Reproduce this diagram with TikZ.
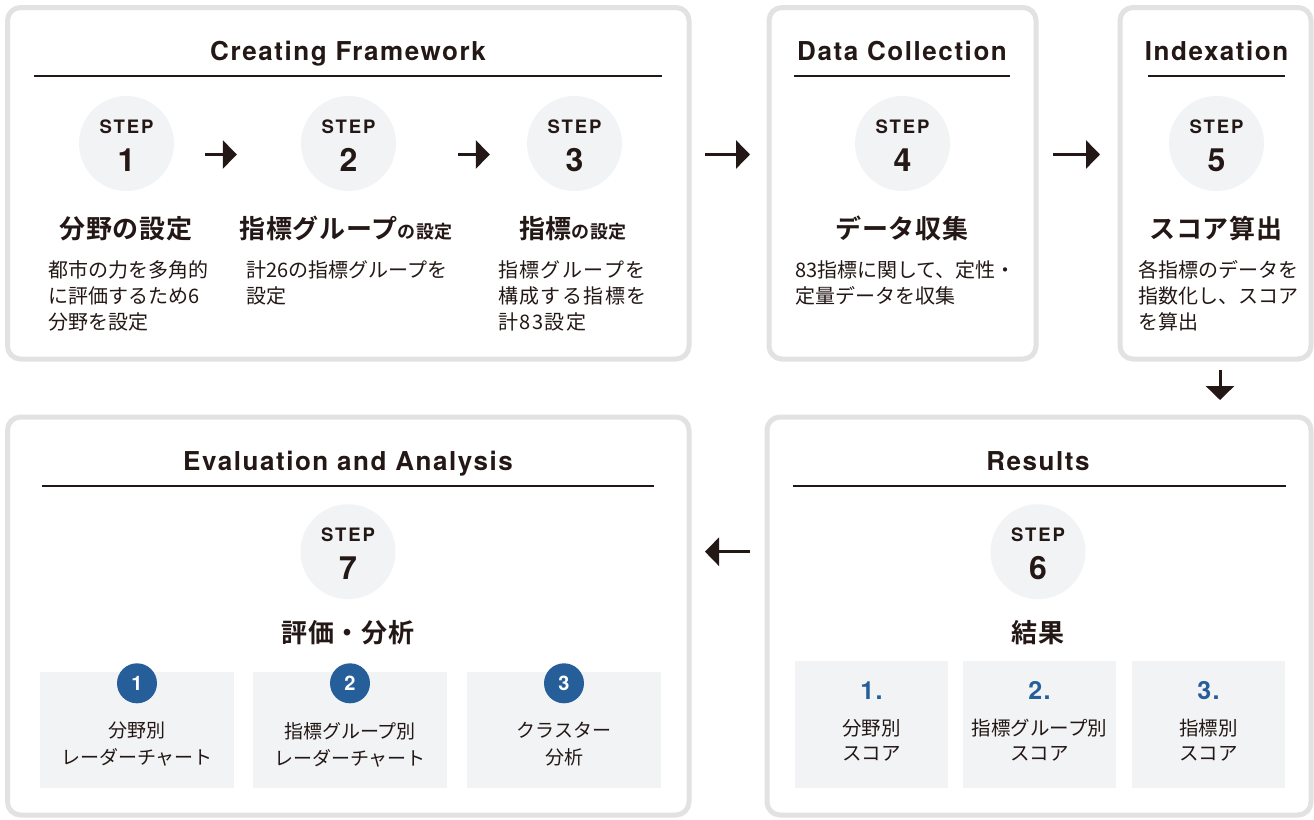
\documentclass[tikz,border=0pt]{standalone}
\usepackage{fontspec}
\setmainfont{TeX Gyre Heros}
\newfontfamily\jp{Noto Sans CJK JP}[BoldFont={Noto Sans CJK JP Bold}]
\newfontfamily\jphead{Noto Sans CJK JP Bold}[LetterSpace=3]
\newfontfamily\jpwide{Noto Sans CJK JP}[LetterSpace=7]
\newfontfamily\hv{TeX Gyre Heros}[LetterSpace=6]
\newfontfamily\hvwide{TeX Gyre Heros}[LetterSpace=10]
\usetikzlibrary{arrows.meta}
\definecolor{Ink}{RGB}{35,24,21}
\definecolor{Frame}{RGB}{226,226,226}
\definecolor{Pale}{RGB}{242,243,245}
\definecolor{Navy}{RGB}{37,94,153}

\begin{document}
\begin{tikzpicture}[x=1pt,y=-1pt,
  panel/.style={draw=Frame,line width=5pt,fill=white,rounded corners=13pt,inner sep=0pt},
  disc/.style={circle,fill=Pale,minimum size=95pt,inner sep=0pt},
  steplbl/.style={anchor=base,text=Ink,font=\hvwide\bfseries\fontsize{18.5}{20}\selectfont},
  stepnum/.style={anchor=base,text=Ink,font=\hv\bfseries\fontsize{32}{34}\selectfont},
  ttl/.style={anchor=base,text=Ink,font=\hv\bfseries\fontsize{26}{30}\selectfont},
  head/.style={anchor=base,text=Ink,font=\jphead\fontsize{26}{30}\selectfont},
  body/.style={anchor=north west,align=left,text=Ink,inner sep=0pt,font=\jp\fontsize{20}{26}\selectfont},
  rule/.style={draw=Ink,line width=1.5pt},
  arr/.style={draw=Ink,line width=3pt,-{Triangle[length=14pt,width=28pt]}},
  cell/.style={fill=Pale,inner sep=0pt},
  badge/.style={circle,fill=Navy,minimum size=40pt,inner sep=0pt,text=white,font=\hv\bfseries\fontsize{20}{22}\selectfont},
  celltxt/.style={align=center,text=Ink,inner sep=0pt,font=\jp\fontsize{19}{27}\selectfont}]

\fill[white] (0,0) rectangle (1314,819);
\useasboundingbox (0,0) rectangle (1314,819);

% top row panels
\node[panel,minimum width=681.5pt,minimum height=351.5pt] (fw) at (348.25,183.25) {};
\node[panel,minimum width=267pt,minimum height=351.5pt] (dc) at (902.5,183.25) {};
\node[panel,minimum width=191pt,minimum height=351.5pt] (ix) at (1215.5,183.25) {};
% bottom row panels
\node[panel,minimum width=681.5pt,minimum height=398pt] (ev) at (348.25,616) {};
\node[panel,minimum width=544pt,minimum height=398pt] (rs) at (1039,616) {};

\node[ttl] (fwtitle) at (348,60.7) {Creating Framework};
\node[ttl] (dctitle) at (902,60.7) {Data Collection};
\node[ttl] (ixtitle) at (1216.5,60.7) {Indexation};
\node[ttl] (evtitle) at (348,470) {Evaluation and Analysis};
\node[ttl] (rstitle) at (1038,470) {Results};
\draw[rule] (34,76) -- (662,76);
\draw[rule] (794,76) -- (1010,76);
\draw[rule] (1148,76) -- (1285,76);
\draw[rule] (42,486) -- (654,486);
\draw[rule] (793,486) -- (1286,486);

\foreach \n/\x/\y in {1/126.5/143.5,2/348.5/143.5,3/574.5/143.5,4/902.5/143.5,5/1216.5/143.5,6/1038/551.7,7/348/551.7}{
  \node[disc] (step\n) at (\x,\y) {};
  \node[steplbl] at ([yshift=10pt]step\n.center) {STEP};
  \node[stepnum] at ([yshift=-27.5pt]step\n.center) {\n};
}

\node[head] (h1) at (126,238) {分野の設定};
\node[head] (h2) at (346,238) {指標グループ{\fontsize{18}{20}\selectfont の設定}};
\node[head] (h3) at (573,238) {指標{\fontsize{18}{20}\selectfont の設定}};
\node[head] (h4) at (902,238) {データ収集};
\node[head] (h5) at (1216,238) {スコア算出};
\node[head] (h6) at (1038,642) {結果};
\node[head] (h7) at (348,642) {評価・分析};

\node[body] (b1) at (48,260) {都市の力を多角的\\に評価するため6\\分野を設定};
\node[body] (b2) at (246,260) {計26の指標グループを\\設定};
\node[body,font=\jpwide\fontsize{20}{26}\selectfont] (b3) at (498,260) {指標グループを\\構成する指標を\\計83設定};
\node[body] (b4) at (795,260) {83指標に関して、定性・\\定量データを収集};
\node[body] (b5) at (1138,260) {各指標のデータを\\指数化し、スコア\\を算出};

% evaluation cells
\node[cell,minimum width=194pt,minimum height=116pt] (evbox1) at (137,730) {};
\node[cell,minimum width=194pt,minimum height=116pt] (evbox2) at (350,730) {};
\node[cell,minimum width=194pt,minimum height=116pt] (evbox3) at (564,730) {};
\node[badge] (badge1) at ([yshift=-11.5pt]evbox1.north) {1};
\node[badge] (badge2) at ([yshift=-11.5pt]evbox2.north) {2};
\node[badge] (badge3) at ([yshift=-11.5pt]evbox3.north) {3};
\node[celltxt] at ([yshift=-14.5pt]evbox1.center) {分野別\\レーダーチャート};
\node[celltxt] at ([yshift=-14.5pt]evbox2.center) {指標グループ別\\レーダーチャート};
\node[celltxt] at ([yshift=-14.5pt]evbox3.center) {クラスター\\分析};

% results cells
\node[cell,minimum width=153pt,minimum height=127pt] (rsbox1) at (871.5,724.5) {};
\node[cell,minimum width=153pt,minimum height=127pt] (rsbox2) at (1039.5,724.5) {};
\node[cell,minimum width=153pt,minimum height=127pt] (rsbox3) at (1208.5,724.5) {};
\foreach \n in {1,2,3}{
  \node[anchor=base,text=Navy,font=\hv\bfseries\fontsize{25}{27}\selectfont] at ([yshift=-39pt]rsbox\n.north) {\n.};
}
\node[celltxt,font=\jp\fontsize{19.5}{25}\selectfont] at ([yshift=-16pt]rsbox1.center) {分野別\\スコア};
\node[celltxt,font=\jp\fontsize{19.5}{25}\selectfont] at ([yshift=-16pt]rsbox2.center) {指標グループ別\\スコア};
\node[celltxt,font=\jp\fontsize{19.5}{25}\selectfont] at ([yshift=-16pt]rsbox3.center) {指標別\\スコア};

\coordinate (arrowrow) at (0,154.5);
\draw[arr,shorten <=31pt,shorten >=64pt] (step1.east |- arrowrow) -- (step2.west |- arrowrow);
\draw[arr,shorten <=62pt,shorten >=37pt] (step2.east |- arrowrow) -- (step3.west |- arrowrow);
\draw[arr,shorten <=13.5pt,shorten >=16.5pt] (fw.east |- arrowrow) -- (dc.west |- arrowrow);
\draw[arr,shorten <=14.5pt,shorten >=17.5pt] (dc.east |- arrowrow) -- (ix.west |- arrowrow);
\draw[arr,shorten <=8.5pt,shorten >=14.5pt] ([xshift=4.5pt]ix.south) -- ([xshift=4.5pt]ix.south |- rs.north);
\draw[arr,shorten <=14.5pt,shorten >=13.5pt] (rs.west |- step6) -- (ev.east |- step7);

\end{tikzpicture}
\end{document}
